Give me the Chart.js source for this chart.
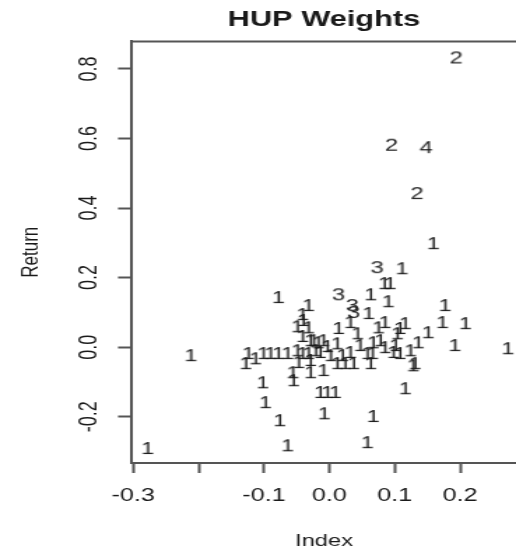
<!DOCTYPE html>
<html>
<head>
<meta charset="utf-8">
<title>HUP Weights</title>
<script src="https://cdn.jsdelivr.net/npm/chart.js@4.4.1/dist/chart.umd.min.js"></script>
<style>
  html, body { margin: 0; padding: 0; background: #fff; overflow: hidden; }
  /* the reference is an R plot stretched sideways, so draw narrow and stretch */
  #wrap { width: 369px; height: 555px; transform: scaleX(1.3984); transform-origin: 0 0; filter: blur(0.4px); }
</style>
</head>
<body>
<div id="wrap"><canvas id="chartCanvas" width="369" height="555"></canvas></div>
<script>
// index return vs portfolio return, labelled by weight
const indexVals = [
    0.194, 0.095, 0.148, 0.134, 0.073, 0.014, 0.035, 0.037,
    0.159, 0.111, 0.084, 0.093, 0.063, 0.090, -0.078, -0.032, -0.041, -0.049, -0.032, -0.041,
    -0.029, -0.017, 0.060, 0.177, 0.173, 0.208, 0.151, 0.192, 0.273, 0.136,
    0.131, 0.032, 0.085, 0.116, 0.108, 0.075, 0.014, 0.043, 0.104, -0.009,
    0.067, 0.098, 0.012, 0.032, 0.058, 0.066, 0.085, 0.108, 0.128, -0.212,
    -0.124, -0.128, -0.101, -0.090, -0.078, -0.064, -0.049, -0.041, -0.032, -0.021,
    -0.014, -0.003, -0.056, -0.055, -0.029, -0.009, 0.012, 0.024, 0.037, 0.063,
    -0.102, -0.098, -0.076, -0.064, -0.278, -0.014, -0.003, 0.009, -0.008, 0.067,
    0.058, 0.116, -0.040, -0.024, 0.047, 0.078, 0.101, 0.124, 0.002, 0.020,
    -0.029, -0.047, -0.113
];
const returnVals = [
    0.833, 0.582, 0.575, 0.443, 0.230, 0.152, 0.121, 0.101,
    0.299, 0.227, 0.184, 0.184, 0.152, 0.132, 0.144, 0.121, 0.095, 0.060, 0.057, 0.032,
    0.020, 0.014, 0.098, 0.121, 0.072, 0.069, 0.043, 0.006, -0.003, 0.014,
    -0.046, 0.072, 0.072, 0.069, 0.055, 0.057, 0.055, 0.040, 0.040, 0.020,
    0.014, -0.014, 0.011, -0.014, -0.017, -0.017, 0.000, -0.017, -0.052, -0.023,
    -0.017, -0.046, -0.017, -0.017, -0.017, -0.017, -0.009, -0.017, -0.017, -0.009,
    -0.014, 0.003, -0.072, -0.095, -0.072, -0.066, -0.046, -0.046, -0.046, -0.046,
    -0.101, -0.158, -0.210, -0.282, -0.290, -0.129, -0.129, -0.129, -0.190, -0.198,
    -0.273, -0.118, 0.078, 0.020, 0.006, 0.020, 0.006, -0.009, -0.023, -0.023,
    -0.037, -0.043, -0.032
];
const weightLabels = [
    "2", "2", "4", "2", "3", "3", "3", "3",
    "1", "1", "1", "1", "1", "1", "1", "1", "1", "1", "1", "1",
    "1", "1", "1", "1", "1", "1", "1", "1", "1", "1",
    "1", "1", "1", "1", "1", "1", "1", "1", "1", "1",
    "1", "1", "1", "1", "1", "1", "1", "1", "1", "1",
    "1", "1", "1", "1", "1", "1", "1", "1", "1", "1",
    "1", "1", "1", "1", "1", "1", "1", "1", "1", "1",
    "1", "1", "1", "1", "1", "1", "1", "1", "1", "1",
    "1", "1", "1", "1", "1", "1", "1", "1", "1", "1",
    "1", "1", "1"
];

const xTickVals = [-0.3, -0.2, -0.1, 0.0, 0.1, 0.2];
const xTickLabels = ["-0.3", "", "-0.1", "0.0", "0.1", "0.2"];
const yTickVals = [-0.2, 0.0, 0.2, 0.4, 0.6, 0.8];
const yTickLabels = ["-0.2", "0.0", "0.2", "0.4", "0.6", "0.8"];

const FONT = "'Liberation Sans', Arial, Helvetica, sans-serif";
const INK = "#1a1a1a";
const LINE = "#555";

// each point is drawn as its weight digit, like R's text()
const glyphs = {};
["1", "2", "3", "4"].forEach(d => {
    const c = document.createElement("canvas");
    c.width = 16;
    c.height = 20;
    const g = c.getContext("2d");
    g.font = "17px " + FONT;
    g.fillStyle = INK;
    g.textAlign = "center";
    g.textBaseline = "alphabetic";
    g.fillText(d, 8, 10 + 0.358 * 17);
    glyphs[d] = c;
});

const rFrame = {
    id: "rFrame",
    afterDraw(chart) {
        const { ctx, chartArea, scales } = chart;
        ctx.save();
        ctx.strokeStyle = LINE;
        ctx.lineWidth = 2;
        ctx.beginPath();
        ctx.moveTo(chartArea.left - 1, chartArea.top);
        ctx.lineTo(chartArea.right, chartArea.top);
        ctx.stroke();

        // R writes y tick labels parallel to the axis
        ctx.fillStyle = INK;
        ctx.font = "18px " + FONT;
        ctx.textAlign = "center";
        ctx.textBaseline = "alphabetic";
        scales.y.ticks.forEach((t, i) => {
            const py = scales.y.getPixelForValue(t.value);
            ctx.save();
            ctx.translate(62.6, py);
            ctx.rotate(-Math.PI / 2);
            ctx.fillText(yTickLabels[i], 0, 0.358 * 18);
            ctx.restore();
        });
        ctx.restore();
    }
};

const ctx1 = document.getElementById("chartCanvas").getContext("2d");

new Chart(ctx1, {
    type: "scatter",
    data: {
        datasets: [{
            label: "HUP",
            data: indexVals.map((x, i) => ({ x: x, y: returnVals[i] })),
            pointStyle: c => glyphs[weightLabels[c.dataIndex]],
            pointRadius: 8,
            pointHoverRadius: 8
        }]
    },
    options: {
        responsive: false,
        animation: false,
        devicePixelRatio: 1,
        layout: { padding: 0, autoPadding: false },
        plugins: {
            legend: { display: false },
            tooltip: { enabled: false },
            title: {
                display: true,
                text: "HUP Weights",
                fullSize: false,
                color: INK,
                font: { family: FONT, size: 22, weight: "bold" },
                padding: { top: 7, bottom: 8 }
            }
        },
        scales: {
            x: {
                type: "linear",
                min: -0.302,
                max: 0.2855,
                afterBuildTicks: s => { s.ticks = xTickVals.map(v => ({ value: v })); },
                afterFit: s => { s.height = 92; },
                ticks: {
                    callback: (v, i) => xTickLabels[i],
                    color: INK,
                    font: { family: FONT, size: 18 },
                    padding: 12,
                    maxRotation: 0,
                    autoSkip: false
                },
                grid: { drawOnChartArea: false, drawTicks: true, tickLength: 10, tickColor: LINE, tickWidth: 2 },
                border: { display: true, color: LINE, width: 2 },
                title: {
                    display: true,
                    text: "Index",
                    color: INK,
                    font: { family: FONT, size: 17 },
                    padding: { top: 0, bottom: 3 }
                }
            },
            y: {
                type: "linear",
                min: -0.333,
                max: 0.879,
                afterBuildTicks: s => { s.ticks = yTickVals.map(v => ({ value: v })); },
                afterFit: s => { s.width = 94.4; },
                ticks: {
                    callback: () => "",
                    font: { family: FONT, size: 18 },
                    padding: 0
                },
                grid: { drawOnChartArea: false, drawTicks: true, tickLength: 10, tickColor: LINE, tickWidth: 2 },
                border: { display: true, color: LINE, width: 2 },
                title: {
                    display: true,
                    text: "Return",
                    color: INK,
                    font: { family: FONT, size: 17 },
                    padding: { top: 12, bottom: 0 }
                }
            }
        }
    },
    plugins: [rFrame]
});
</script>
</body>
</html>
